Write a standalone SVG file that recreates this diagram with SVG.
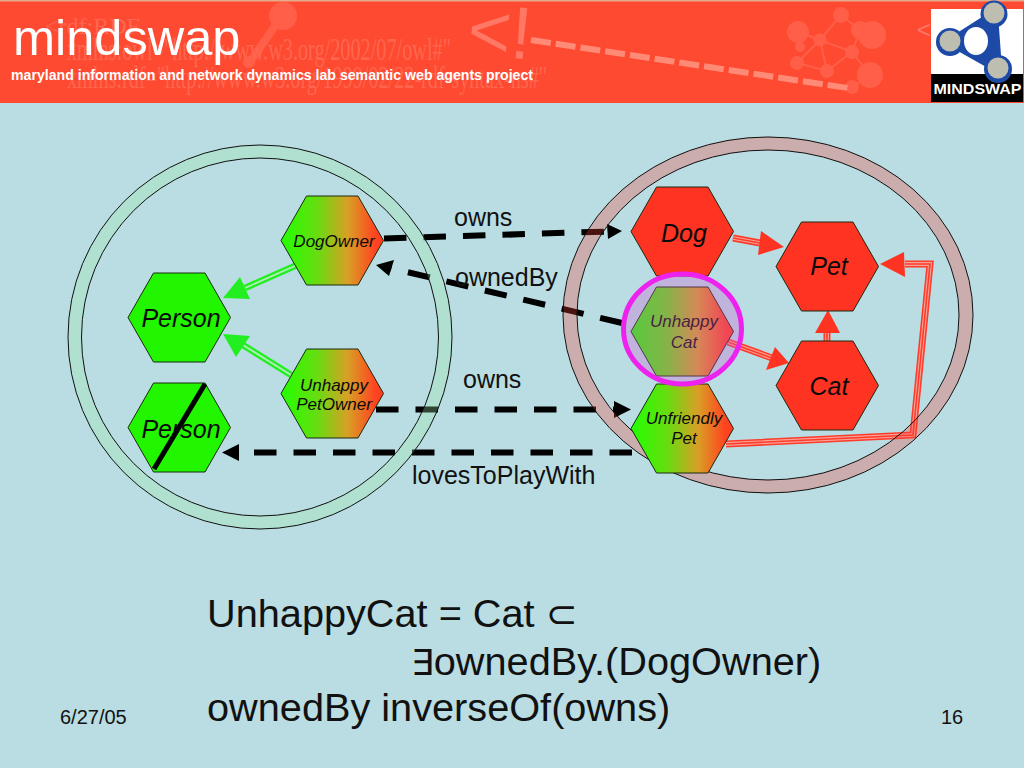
<svg xmlns="http://www.w3.org/2000/svg" width="1024" height="768" viewBox="0 0 1024 768">
<style>
text{font-family:"Liberation Sans",Arial,sans-serif}
.hex{stroke:#1a2a10;stroke-width:1}
.g{fill:#22f500}.r{fill:#ff3322}.m{fill:url(#grad)}
.ni{font-style:italic;fill:#0a0a0a;text-anchor:middle}
.big{font-size:25px}.sm{font-size:17px}
.lbl{font-size:25px;fill:#111}
.eq{font-size:39.7px;fill:#111}
.foot{font-size:20px;fill:#111}
.dash{fill:none;stroke:#000;stroke-width:6;stroke-dasharray:22.5 17}
.ah{fill:#000}
.gl{fill:none;stroke:#22ee22;stroke-width:6.5}.gc{fill:none;stroke:#b4eebc;stroke-width:1.8}
.rl{fill:none;stroke:#ff3b2b;stroke-width:7}.rc{fill:none;stroke:#f9a396;stroke-width:3.8}.rk{fill:none;stroke:#ff3b2b;stroke-width:1.6}
.gh{fill:#22ee22}.rh{fill:#ff3322}
.edge{fill:none;stroke:#111;stroke-width:1}
.wm{font-family:"Liberation Serif",serif;fill:#ff6650;font-size:31px}
.mol{fill:#ff5f49}
.brain{fill:#bdbdb0}
</style>
<defs>
<linearGradient id="grad" x1="0" y1="0" x2="1" y2="0"><stop offset="0" stop-color="#22ff00"/><stop offset="0.35" stop-color="#66dd10"/><stop offset="0.65" stop-color="#d8a025"/><stop offset="0.92" stop-color="#ff4420"/><stop offset="1" stop-color="#ff3a1e"/></linearGradient>
<polygon id="hx" points="0,44.5 25.5,0 77,0 102.5,44.5 77,89 25.5,89" class="hex"/>
</defs>
<rect width="1024" height="768" fill="#b9dde2"/>
<g id="header">
<rect width="1024" height="103" fill="#fe4a30"/>
<rect width="1024" height="1.5" fill="#e6a98c"/>
<g class="mol">
<circle cx="283" cy="16" r="14"/><path d="M275 26 250 62" stroke="#ff5f49" stroke-width="8"/><circle cx="249" cy="62" r="6"/>
<circle cx="798" cy="32" r="11"/><circle cx="841" cy="15" r="8"/><circle cx="872" cy="35" r="14"/><circle cx="860" cy="30" r="9"/><circle cx="820" cy="40" r="6.5"/><circle cx="852" cy="52" r="7"/><circle cx="800" cy="47" r="5"/><circle cx="797" cy="63" r="7"/><circle cx="827" cy="71" r="7"/><circle cx="870" cy="75" r="13"/><circle cx="852" cy="87" r="7"/>
<path d="M798 32 820 40 841 15 860 30 852 52 820 40M852 52 827 71 797 63 820 40M827 71 820 40M852 52 870 75 852 87" fill="none" stroke="#ff5f49" stroke-width="2"/>
</g>
<text class="wm" x="45" y="34" style="font-size:24px">&lt;rdf:RDF</text>
<text class="wm" x="67" y="60" textLength="384" lengthAdjust="spacingAndGlyphs">xmlns:owl="http://www.w3.org/2002/07/owl#"</text>
<text class="wm" x="67" y="88" textLength="480" lengthAdjust="spacingAndGlyphs">xmlns:rdf="http://www.w3.org/1999/02/22-rdf-syntax-ns#"</text>
<text x="466" y="54" style="font-size:74px" fill="#ff7866" transform="rotate(5 466 54)">&lt;!</text>
<path d="M531 40 848 88" fill="none" stroke="#ff8a76" stroke-width="6" stroke-dasharray="20 5"/>
<text x="917" y="38" style="font-size:24px" fill="#ff7866">&lt;</text>
<text x="13" y="55" style="font-size:50.5px" fill="#fff">mindswap</text>
<text x="11" y="80" style="font-size:14px;font-weight:bold" fill="#fff" textLength="522" lengthAdjust="spacingAndGlyphs">maryland information and network dynamics lab semantic web agents project</text>
</g>
<g id="logo">
<rect x="931" y="9" width="92" height="65" fill="#fff"/>
<rect x="931" y="74" width="92" height="28" fill="#000"/>
<path d="M994 14 950 42 998 69Z" fill="#1c4aa6" stroke="#1c4aa6" stroke-width="8" stroke-linejoin="round"/>
<ellipse cx="976" cy="41" rx="12" ry="14" fill="#fff"/>
<circle cx="994" cy="14" r="13.5" fill="#1c4aa6"/><circle cx="950" cy="42" r="14" fill="#1c4aa6"/><circle cx="998" cy="69" r="14" fill="#1c4aa6"/>
<circle class="brain" cx="994" cy="13" r="10.5"/><circle class="brain" cx="950" cy="41" r="10.5"/><circle class="brain" cx="998" cy="68" r="10.5"/>
<text x="977.5" y="94" text-anchor="middle" fill="#fff" style="font-size:15px;font-weight:bold" textLength="88" lengthAdjust="spacingAndGlyphs">MINDSWAP</text>
</g>
<g id="connectors">
<path class="dash" d="M384 238.5 608 231.5"/><polygon class="ah" points="622,231 607,224 608,239"/>
<path class="dash" d="M622 323 390 268"/><polygon class="ah" points="376,265 394,260 389,276"/>
<path class="dash" d="M376 409.5 614 409.5"/><polygon class="ah" points="631,409.5 614,401 614,418"/>
<path class="dash" d="M632 452.5 240 452.5"/><polygon class="ah" points="222,452.5 239,444 239,461"/>
<path class="gl" d="M297 265 245 288"/><path class="gc" d="M297 265 245 288"/><polygon class="gh" points="223,298 240,277 250,299"/>
<path class="gl" d="M291 375 243 345"/><path class="gc" d="M291 375 243 345"/><polygon class="gh" points="223,334 250,336 236,357"/>
<g id="red-links">
<path class="rl" d="M733 238 760 243"/><path class="rc" d="M733 238 760 243"/><path class="rk" d="M733 238 760 243"/><polygon class="rh" points="784,247 761,231 758,255"/>
<path class="rl" d="M827 341 827 332"/><path class="rc" d="M827 341 827 332"/><path class="rk" d="M827 341 827 332"/><polygon class="rh" points="828,310 815,333 840,333"/>
<path class="rl" d="M728 342 772 358"/><path class="rc" d="M728 342 772 358"/><path class="rk" d="M728 342 772 358"/><polygon class="rh" points="789,363 775,347 766,370"/>
<path class="rl" d="M726 444 913 435 930 264 905 264"/><path class="rc" d="M726 444 913 435 930 264 905 264"/><path class="rk" d="M726 444 913 435 930 264 905 264"/><polygon class="rh" points="880,264 904,252 905,277"/>
</g>
</g>
<g id="ring-left">
<ellipse cx="260" cy="337" rx="185.3" ry="185.5" fill="none" stroke="#9be7a7" stroke-width="13.5" opacity=".3"/>
<ellipse class="edge" cx="260" cy="337" rx="192" ry="192"/><ellipse class="edge" cx="260" cy="337" rx="178.5" ry="179"/>
</g>
<g id="ring-right">
<ellipse cx="768" cy="315" rx="198" ry="171.5" fill="none" stroke="#f54035" stroke-width="13.5" opacity=".3"/>
<ellipse class="edge" cx="768" cy="315" rx="205" ry="178"/><ellipse class="edge" cx="768" cy="315" rx="191" ry="165"/>
</g>
<g id="node-person"><use href="#hx" x="128" y="273" class="g"/><text class="ni big" x="181" y="327">Person</text></g>
<g id="node-person-negated"><use href="#hx" x="128" y="383" class="g"/><text class="ni big" x="181" y="438">Person</text><path d="M205 384 154 469" stroke="#000" stroke-width="5"/></g>
<g id="node-dogowner"><use href="#hx" x="281" y="196" class="m"/><text class="ni sm" x="334" y="247">DogOwner</text></g>
<g id="node-unhappypetowner"><use href="#hx" x="281" y="349" class="m"/><text class="ni sm" x="334" y="391">Unhappy</text><text class="ni sm" x="334" y="410">PetOwner</text></g>
<g id="node-dog"><use href="#hx" x="631" y="187" class="r"/><text class="ni big" x="684" y="242">Dog</text></g>
<g id="node-pet"><use href="#hx" x="776" y="222" class="r"/><text class="ni big" x="829" y="275">Pet</text></g>
<g id="node-unhappycat"><use href="#hx" x="631" y="287" class="m"/><text class="ni sm" x="684" y="327">Unhappy</text><text class="ni sm" x="684" y="348">Cat</text></g>
<g id="node-cat"><use href="#hx" x="776" y="341" class="r"/><text class="ni big" x="829" y="395">Cat</text></g>
<g id="node-unfriendlypet"><use href="#hx" x="631" y="384" class="m"/><text class="ni sm" x="684" y="424">Unfriendly</text><text class="ni sm" x="684" y="444">Pet</text></g>
<g id="highlight"><ellipse cx="682.5" cy="329" rx="59" ry="55" fill="#d053ce" fill-opacity=".3" stroke="#ee22ee" stroke-width="5"/></g>
<g id="labels">
<text class="lbl" x="454" y="226">owns</text>
<text class="lbl" x="455" y="286">ownedBy</text>
<text class="lbl" x="463" y="388">owns</text>
<text class="lbl" x="412" y="484">lovesToPlayWith</text>
</g>
<g id="formula">
<text class="eq" x="207" y="627">UnhappyCat = Cat <tspan font-family="'DejaVu Sans',sans-serif" style="font-size:38px">⊂</tspan></text>
<text class="eq" x="411" y="675"><tspan font-family="'DejaVu Sans',sans-serif" style="font-size:36px">∃</tspan>ownedBy.(DogOwner)</text>
<text class="eq" x="207" y="721">ownedBy inverseOf(owns)</text>
</g>
<g id="footer">
<text class="foot" x="60" y="724">6/27/05</text>
<text class="foot" x="941" y="724">16</text>
</g>
</svg>
